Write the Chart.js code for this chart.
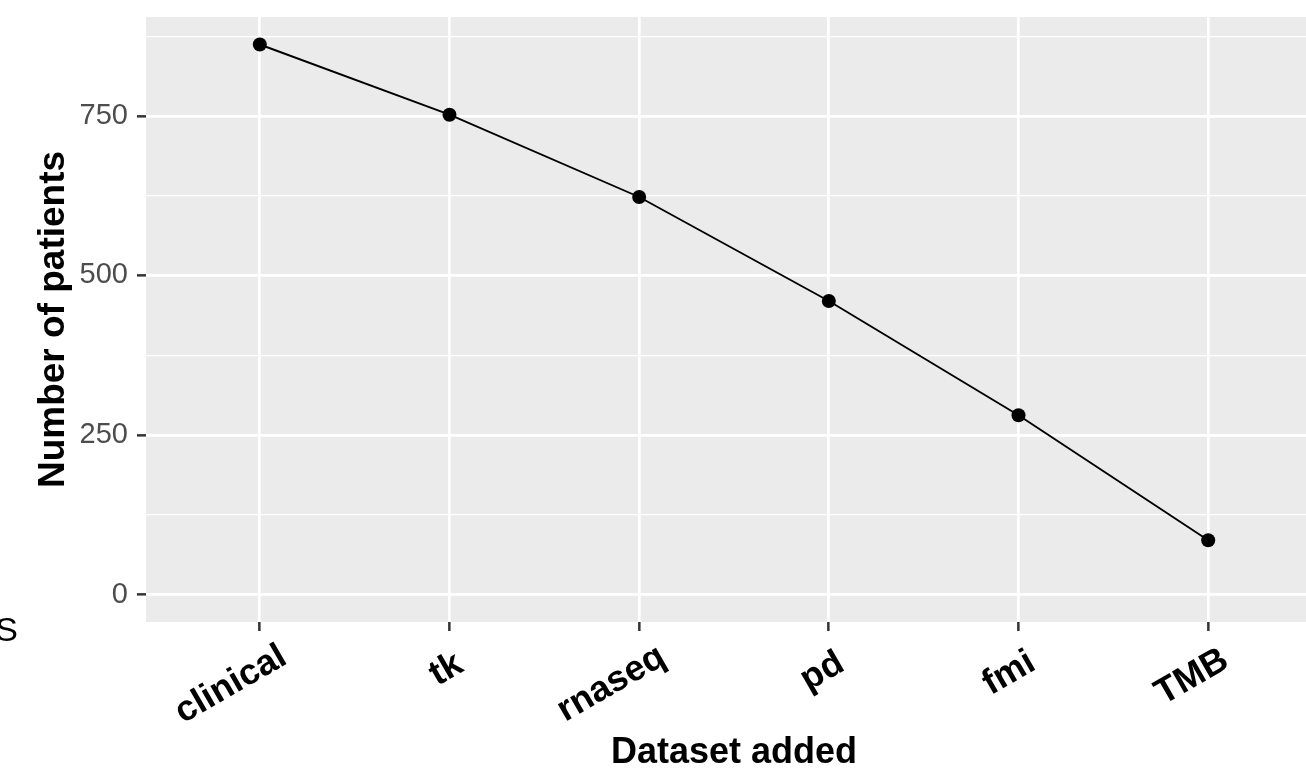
<!DOCTYPE html>
<html>
<head>
<meta charset="utf-8">
<script src="https://cdn.jsdelivr.net/npm/chart.js@4/dist/chart.umd.min.js"></script>
<style>
  html, body { margin: 0; padding: 0; background: #fff; overflow: hidden; width: 1306px; height: 783px; }
  #wrap { position: absolute; left: 0; top: 0; width: 1329px; height: 783px; }
</style>
</head>
<body>
<div id="wrap"><canvas id="c" width="1329" height="783"></canvas></div>
<script>
const categories = ["clinical", "tk", "rnaseq", "pd", "fmi", "TMB"];
const patients = [862, 752, 623, 460, 281, 85];
const yTicks = [0, 125, 250, 375, 500, 625, 750, 875];
const yLabeled = [0, 250, 500, 750];

const FONT = "'Liberation Sans', Arial, Helvetica, sans-serif";

const panelBg = {
  id: 'panelBg',
  beforeDraw(chart) {
    const {ctx, chartArea: a} = chart;
    ctx.save();
    ctx.fillStyle = '#EBEBEB';
    ctx.fillRect(a.left, a.top, a.right - a.left, a.bottom - a.top);
    ctx.restore();
  },
  afterDraw(chart) {
    const ctx = chart.ctx;
    const xs = chart.scales.x;
    // rotated category labels (ggplot-like justification)
    ctx.save();
    ctx.fillStyle = '#000';
    ctx.font = 'bold 36px ' + FONT;
    ctx.textAlign = 'right';
    ctx.textBaseline = 'alphabetic';
    categories.forEach((lab, i) => {
      const px = xs.getPixelForValue(i);
      const L = ctx.measureText(lab).width;
      ctx.save();
      ctx.translate(px + 11, xs.top + 51);
      ctx.rotate(-Math.PI / 6);
      ctx.fillText(lab, 0.17 * L, 0);
      ctx.restore();
    });
    ctx.restore();
    // clipped letter at left edge
    ctx.save();
    ctx.fillStyle = '#000';
    ctx.font = '34px ' + FONT;
    ctx.textAlign = 'right';
    ctx.textBaseline = 'alphabetic';
    ctx.fillText('S', 18, 641);
    ctx.restore();
  }
};

new Chart(document.getElementById('c'), {
  type: 'line',
  data: {
    datasets: [{
      data: patients.map((v, i) => ({x: i, y: v})),
      borderColor: '#000',
      borderWidth: 1.9,
      backgroundColor: '#000',
      pointRadius: 7,
      pointHoverRadius: 7,
      pointBorderWidth: 0,
      tension: 0,
      fill: false
    }]
  },
  options: {
    responsive: false,
    animation: false,
    events: [],
    layout: { padding: { top: 17, left: 0, right: 0, bottom: 0 } },
    plugins: { legend: { display: false }, tooltip: { enabled: false } },
    scales: {
      x: {
        type: 'linear',
        min: -0.6,
        max: 5.6,
        afterBuildTicks: s => { s.ticks = categories.map((c, i) => ({value: i})); },
        afterFit: s => { s.height = 161; s.paddingLeft = 0; s.paddingRight = 0; },
        border: { display: false },
        grid: {
          color: '#FFFFFF',
          lineWidth: 2.7,
          drawTicks: true,
          tickLength: 9,
          tickColor: '#333333',
          tickWidth: 2.5
        },
        ticks: {
          display: false,
          autoSkip: false,
          callback: v => categories[v] ?? ''
        },
        title: {
          display: true,
          text: 'Dataset added',
          color: '#000',
          font: { family: FONT, size: 36, weight: 'bold', lineHeight: 1.2 },
          padding: { top: 0, bottom: 8 }
        }
      },
      y: {
        type: 'linear',
        min: -43.1,
        max: 905.1,
        afterBuildTicks: s => { s.ticks = yTicks.map(v => ({value: v})); },
        afterFit: s => { s.width = 146; s.paddingTop = 0; s.paddingBottom = 0; },
        border: { display: false },
        grid: {
          color: '#FFFFFF',
          lineWidth: c => (yLabeled.includes(c.tick.value) ? 2.7 : 1.35),
          drawTicks: true,
          tickLength: 9,
          tickColor: c => (yLabeled.includes(c.tick.value) ? '#333333' : 'rgba(0,0,0,0)'),
          tickWidth: 2.5
        },
        ticks: {
          autoSkip: false,
          padding: 9,
          color: '#4D4D4D',
          font: { family: FONT, size: 29 },
          callback: v => (yLabeled.includes(v) ? String(v) : '')
        },
        title: {
          display: true,
          text: 'Number of patients',
          color: '#000',
          font: { family: FONT, size: 37, weight: 'bold', lineHeight: 1.2 },
          padding: { top: 32, bottom: 0 }
        }
      }
    }
  },
  plugins: [panelBg]
});
</script>
</body>
</html>
